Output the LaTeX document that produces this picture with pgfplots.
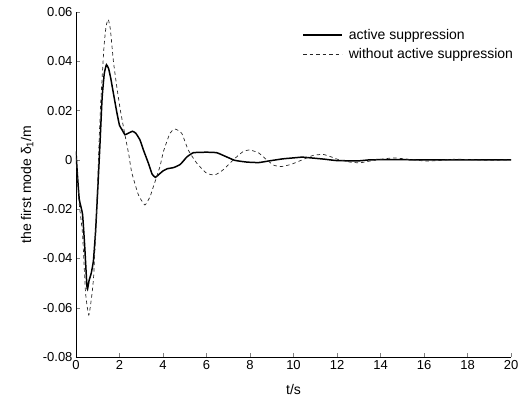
\documentclass[border=0pt]{standalone}
\usepackage{fontspec}
\setmainfont{Liberation Sans}
\usepackage{pgfplots}
\pgfplotsset{compat=1.18}
\begin{document}
\begin{tikzpicture}
\begin{axis}[
  name=ax,
  scale only axis,
  width=435bp, height=345bp,
  xmin=0, xmax=20, ymin=-0.08, ymax=0.06,
  axis x line*=bottom, axis y line*=left,
  tick align=inside,
  major tick length=4bp,
  xtick={0,2,...,20},
  ytick={-0.08,-0.06,-0.04,-0.02,0,0.02,0.04,0.06},
  yticklabels={-0.08,-0.06,-0.04,-0.02,0,0.02,0.04,0.06},
  scaled y ticks=false,
  /pgf/number format/assume math mode=true,
  ticklabel style={font=\fontsize{13bp}{15bp}\selectfont},
  xlabel={t/s},
  ylabel={the first mode δ\textsubscript{1}/m},
  xlabel style={font=\fontsize{14bp}{16bp}\selectfont, at={(axis description cs:0.5,0)}, anchor=north, yshift=-24bp},
  ylabel style={font=\fontsize{14bp}{16bp}\selectfont, at={(axis description cs:-0.09,0.5)}, anchor=south},
  axis line style={black},
  legend style={draw=none, fill=none, at={(1.012,0.96)}, anchor=north east,
    font=\fontsize{14bp}{16bp}\selectfont, row sep=4bp, inner sep=1bp},
  legend cell align=left,
  legend image code/.code={\draw[#1] (0bp,0bp) -- (39bp,0bp); \path (43bp,0bp);},
]
\addplot[black, line width=1.5pt, smooth, tension=0.25] coordinates {
(0,0.0034) (0.05,-0.004) (0.15,-0.016) (0.3,-0.022) (0.4,-0.035) (0.5,-0.051)
(0.53,-0.0525) (0.6,-0.049) (0.7,-0.046) (0.8,-0.041) (0.9,-0.029) (1.0,-0.012)
(1.1,0.006) (1.2,0.025) (1.3,0.035) (1.4,0.0386) (1.5,0.037) (1.6,0.033)
(1.7,0.028) (1.87,0.0196) (2.0,0.014) (2.1,0.0125) (2.25,0.0102) (2.4,0.0108)
(2.6,0.0116) (2.75,0.0108) (2.94,0.0081) (3.1,0.004) (3.33,-0.0014) (3.5,-0.0058)
(3.65,-0.0071) (3.8,-0.006) (4.0,-0.0045) (4.2,-0.0036) (4.5,-0.0031) (4.8,-0.0018)
(5.1,0.0012) (5.4,0.0029) (6.0,0.0031) (6.47,0.0029) (6.9,0.0013) (7.3,-0.0002)
(7.85,-0.0009) (8.4,-0.0011) (8.9,-0.0004) (9.5,0.0004) (10.0,0.0008) (10.4,0.0011)
(10.8,0.0008) (11.4,0.0003) (12.0,-0.0003) (13.0,-0.0004) (13.5,0.0) (14.5,0.0001)
(16,0.0) (20,0.0)
};
\addlegendentry{active suppression}
\addplot[black!85, line width=0.7pt, dash pattern=on 3.5bp off 3bp, smooth, tension=0.3] coordinates {
(0,0.0034) (0.05,-0.005) (0.15,-0.018) (0.3,-0.03) (0.44,-0.054) (0.59,-0.063)
(0.74,-0.054) (0.82,-0.046) (0.95,-0.02) (1.05,0.005) (1.13,0.022) (1.28,0.045)
(1.38,0.054) (1.48,0.057) (1.58,0.053) (1.72,0.04) (1.87,0.030) (2.05,0.0196)
(2.28,0.0088) (2.43,0.002) (2.56,-0.005) (2.87,-0.0142) (3.17,-0.0183) (3.4,-0.015)
(3.56,-0.0108) (3.86,-0.0027) (4.02,0.0034) (4.32,0.0108) (4.55,0.0125) (4.86,0.0108)
(5.16,0.004) (5.55,-0.0013) (6.0,-0.0054) (6.39,-0.0061) (6.77,-0.004) (7.23,0)
(7.69,0.0034) (8.0,0.004) (8.4,0.0028) (8.77,0) (9.1,-0.0022) (9.46,-0.0027)
(9.9,-0.0018) (10.4,0) (10.9,0.0018) (11.37,0.0022) (11.8,0.001) (12.1,0)
(12.6,-0.0009) (13.05,-0.0012) (13.5,-0.0005) (13.8,0) (14.6,0.0008) (15.3,0.0002)
(16.1,-0.0005) (16.8,-0.0002) (17.5,0.0003) (18.3,0) (19,-0.0002) (20,0)
};
\addlegendentry{without active suppression}
\end{axis}
\pgfresetboundingbox
\path[use as bounding box] ([xshift=-76bp,yshift=-41bp]ax.south west) rectangle ([xshift=15bp,yshift=12bp]ax.north east);
\end{tikzpicture}
\end{document}
